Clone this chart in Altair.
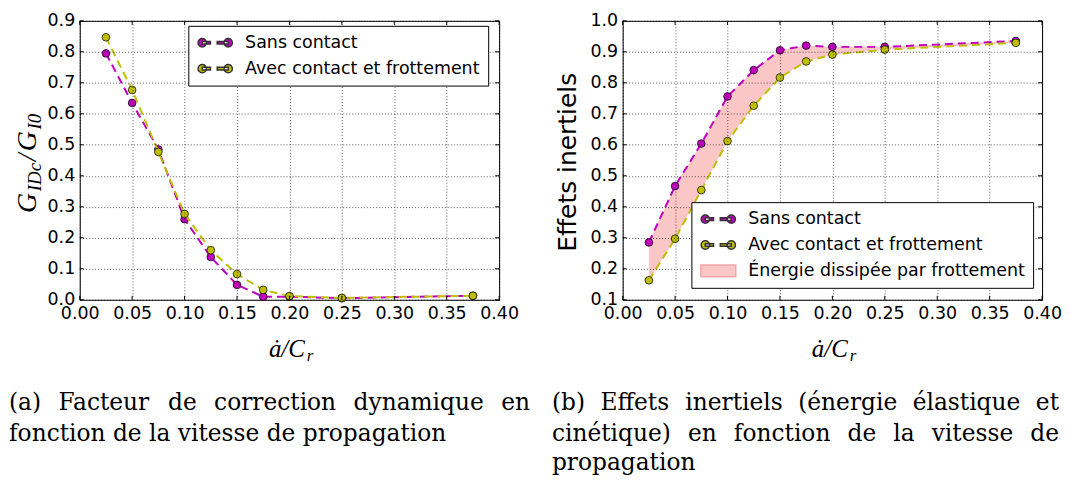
import altair as alt
import pandas as pd

# ---------------- data ----------------
x_vals = [0.025, 0.05, 0.075, 0.1, 0.125, 0.15, 0.175, 0.2, 0.25, 0.375]
g_sans = [0.795, 0.635, 0.485, 0.260, 0.138, 0.048, 0.010, 0.010, 0.005, 0.013]
g_avec = [0.847, 0.677, 0.477, 0.277, 0.160, 0.083, 0.032, 0.012, 0.006, 0.013]
e_sans = [0.285, 0.467, 0.604, 0.756, 0.841, 0.905, 0.920, 0.916, 0.916, 0.935]
e_avec = [0.163, 0.297, 0.454, 0.612, 0.726, 0.817, 0.869, 0.891, 0.907, 0.929]

series = ["Sans contact", "Avec contact et frottement"]
fill_label = "Énergie dissipée par frottement"

x_ticks = [0.0, 0.05, 0.10, 0.15, 0.20, 0.25, 0.30, 0.35, 0.40]
yl_ticks = [0.0, 0.1, 0.2, 0.3, 0.4, 0.5, 0.6, 0.7, 0.8, 0.9]
yr_ticks = [0.1, 0.2, 0.3, 0.4, 0.5, 0.6, 0.7, 0.8, 0.9, 1.0]

# caption lines: (text, justified?)
caption_a = [("(a) Facteur de correction dynamique en", True),
             ("fonction de la vitesse de propagation", False)]
caption_b = [("(b) Effets inertiels (énergie élastique et", True),
             ("cinétique) en fonction de la vitesse de", True),
             ("propagation", False)]

MAG, YEL, PINK = "#bf00bf", "#bfbf00", "#fbc6c6"

W, H = 421, 280
SANS = "DejaVu Sans"
SERIF = "Liberation Serif"
CAP_FONT = "DejaVu Serif"
CAP_FS = 23.4
FS = 17.5

# legend symbol paths (in symbol units, 1 unit = 8 px)
P_LM = ("M-2.15,0 a0.52,0.52 0 1,0 1.04,0 a0.52,0.52 0 1,0 -1.04,0 Z "
        "M-1.63,-0.17 H-0.6 V0.17 H-1.63 Z "
        "M0.25,-0.17 H1.63 V0.17 H0.25 Z "
        "M1.11,0 a0.52,0.52 0 1,0 1.04,0 a0.52,0.52 0 1,0 -1.04,0 Z")
P_RECT = "M-2.19,-0.75 H2.19 V0.75 H-2.19 Z"

# approximate DejaVu Serif advance widths (em) for justification
CW = {" ": 0.318, "(": 0.390, ")": 0.390, "a": 0.596, "b": 0.640, "c": 0.560,
      "d": 0.640, "e": 0.592, "é": 0.592, "f": 0.370, "g": 0.640, "i": 0.320,
      "l": 0.320, "m": 0.948, "n": 0.644, "o": 0.602, "p": 0.640, "q": 0.640,
      "r": 0.478, "s": 0.513, "t": 0.402, "u": 0.644, "v": 0.565, "y": 0.565,
      "F": 0.683, "E": 0.730}


def long_df(a, b):
    return pd.DataFrame({
        "x": x_vals * 2,
        "y": a + b,
        "series": [series[0]] * len(x_vals) + [series[1]] * len(x_vals),
    })


def txt(text, x, y, size, font=SERIF, style="normal", angle=0, align="left",
        baseline="alphabetic"):
    kw = dict(font=font, fontSize=size, fontStyle=style, align=align,
              baseline=baseline, color="black")
    if angle:
        kw["angle"] = angle
    return alt.Chart(pd.DataFrame({"t": [text]})).mark_text(**kw).encode(
        text="t:N", x=alt.value(x), y=alt.value(y))


def caption(lines, x0, x1, ys):
    out = []
    for (line, just), y in zip(lines, ys):
        if not just:
            out.append(txt(line, x0, y, CAP_FS, font=CAP_FONT))
            continue
        words = line.split(" ")
        widths = [sum(CW.get(c, 0.6) for c in w) * CAP_FS for w in words]
        gap = (x1 - x0 - sum(widths)) / (len(words) - 1)
        x = x0
        for j, w in enumerate(words):
            if j == len(words) - 1:
                out.append(txt(w, x1, y, CAP_FS, font=CAP_FONT, align="right"))
            else:
                out.append(txt(w, x, y, CAP_FS, font=CAP_FONT))
                x += widths[j] + gap
    return out


def xtitle(cx):
    return [txt("ȧ/C", cx, 337, 25, style="italic", align="right"),
            txt("r", cx + 2, 341, 17, style="italic", align="left")]


def panel(df, y_dom, y_ticks, wide=None, legend_x=0, legend_y=0):
    xs = alt.Scale(domain=[0, 0.4], nice=False, zero=False)
    ys = alt.Scale(domain=y_dom, nice=False, zero=False)
    gaxis = dict(grid=True, gridDash=[1, 2], gridColor="black", gridWidth=0.7,
                 gridOpacity=0.9, ticks=False, domain=False, title=None,
                 labelFont=SANS, labelFontSize=FS, labelColor="black",
                 labelOverlap=False, labelFlush=False, zindex=1)
    X = alt.X("x:Q", scale=xs, axis=alt.Axis(values=x_ticks, format=".2f",
                                             labelPadding=5, **gaxis))
    Y = alt.Y("y:Q", scale=ys, axis=alt.Axis(values=y_ticks, format=".1f",
                                             labelPadding=5, **gaxis))
    dom = series + ([fill_label] if wide is not None else [])
    # colour scale for the drawn marks (domain order differs from legend scales)
    cscale = alt.Scale(domain=[fill_label] + series, range=[PINK, MAG, YEL])
    C = alt.Color("series:N", scale=cscale, legend=None)

    layers = []
    if wide is not None:
        layers.append(alt.Chart(wide).mark_area(opacity=1).encode(
            x=X, y=Y, y2="y2:Q", color=C))
    for s in series:
        base = alt.Chart(df).transform_filter(alt.datum.series == s)
        layers.append(base.mark_line(strokeDash=[8, 5], strokeWidth=2).encode(
            x=X, y=Y, color=C, order="x:Q"))
        layers.append(base.mark_circle(size=60, stroke="black", strokeWidth=0.7,
                                       opacity=1).encode(x=X, y=Y, color=C))

    # inward ticks on all four sides
    xt = pd.DataFrame({"x": x_ticks})
    yt = pd.DataFrame({"y": y_ticks})
    tk = dict(color="black", strokeWidth=1)
    layers += [
        alt.Chart(xt).mark_rule(**tk).encode(x=X, y=alt.value(H), y2=alt.value(H - 4)),
        alt.Chart(xt).mark_rule(**tk).encode(x=X, y=alt.value(0), y2=alt.value(4)),
        alt.Chart(yt).mark_rule(**tk).encode(y=Y, x=alt.value(0), x2=alt.value(4)),
        alt.Chart(yt).mark_rule(**tk).encode(y=Y, x=alt.value(W), x2=alt.value(W - 4)),
    ]

    # legend-only layer (draws no marks)
    leg = alt.Legend(orient="none", legendX=legend_x, legendY=legend_y, title=None,
                     labelFont=SANS, labelFontSize=FS, labelColor="black",
                     labelLimit=0, strokeColor="black", fillColor="white",
                     padding=8, cornerRadius=0, rowPadding=8, labelOffset=21,
                     symbolOffset=10, symbolSize=256, zindex=2)
    ldf = pd.DataFrame({"series": dom})
    rng_fill = [MAG, YEL, PINK][:len(dom)]
    rng_shape = [P_LM, P_LM, P_RECT][:len(dom)]
    rng_stroke = ["#333333", "#333333", "#f0a8a8"][:len(dom)]
    layers.append(alt.Chart(ldf).transform_filter("false").mark_point(
        filled=True, size=256, strokeWidth=0.5, opacity=1).encode(
        fill=alt.Fill("series:N", scale=alt.Scale(domain=dom, range=rng_fill), legend=leg),
        shape=alt.Shape("series:N", scale=alt.Scale(domain=dom, range=rng_shape), legend=leg),
        stroke=alt.Stroke("series:N", scale=alt.Scale(domain=dom, range=rng_stroke), legend=leg),
    ))
    return layers


CAP_Y = [391, 422, 451]

# ---------------- left panel ----------------
left_layers = panel(long_df(g_sans, g_avec), [0, 0.9], yl_ticks,
                    legend_x=109, legend_y=5)
left_layers += xtitle(226)
left_layers += [
    txt("G", -44, 193, 28, style="italic", angle=270),
    txt("IDc", -39, 171, 19, style="italic", angle=270),
    txt("/", -44, 141, 28, style="italic", angle=270),
    txt("G", -44, 131, 28, style="italic", angle=270),
    txt("I0", -39, 109, 19, style="italic", angle=270),
]
left_layers += caption(caption_a, -71, 452, CAP_Y)
left = alt.layer(*left_layers).properties(width=W, height=H)

# ---------------- right panel ----------------
wide = pd.DataFrame({"x": x_vals, "y": e_sans, "y2": e_avec,
                     "series": [fill_label] * len(x_vals)})
right_layers = panel(long_df(e_sans, e_avec), [0.1, 1.0], yr_ticks, wide=wide,
                     legend_x=69, legend_y=182)
right_layers += xtitle(226)
right_layers.append(txt("Effets inertiels", -47, 142, 25, font=SANS, angle=270,
                        align="center"))
right_layers += caption(caption_b, -71, 438, CAP_Y)
right = alt.layer(*right_layers).properties(width=W, height=H)

chart = alt.hconcat(left, right, spacing=124, bounds="flush").resolve_scale(
    x="independent", y="independent", color="independent", fill="independent",
    shape="independent", stroke="independent").resolve_legend(
    fill="independent", shape="independent", stroke="independent").properties(
    padding={"left": 0, "top": 2, "right": 0, "bottom": 0},
    background="white").configure_view(stroke="black", strokeWidth=1)

chart.save("out.html", embed_options={"renderer": "svg", "actions": False})
